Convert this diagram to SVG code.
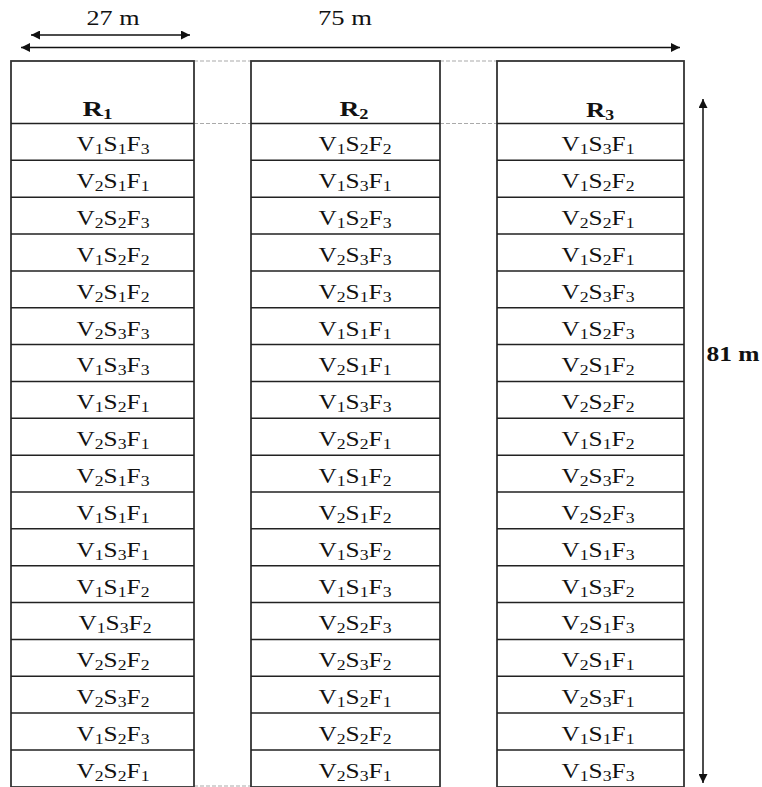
<svg xmlns="http://www.w3.org/2000/svg" width="762" height="787" viewBox="0 0 762 787">
<style>
.c{font-family:"Liberation Serif","Times New Roman",serif;font-size:20px;fill:#111;text-anchor:middle}
.b{font-weight:bold}
.s{font-size:14px;baseline-shift:-3px}
.box{fill:none;stroke:#333;stroke-width:1.8}
.row{stroke:#222;stroke-width:1.5}
.dash{stroke:#aaa;stroke-width:1.2;stroke-dasharray:4 2}
.arr{stroke:#111;stroke-width:1.5;fill:none}
</style>
<defs>
<marker id="ah" viewBox="0 0 10 10" refX="10" refY="5" markerWidth="11" markerHeight="9" markerUnits="userSpaceOnUse" orient="auto-start-reverse">
<path d="M0,0 L10,5 L0,10 z" fill="#111"/>
</marker>
</defs>
<g id="connectors">
<line class="arr" x1="31" y1="35" x2="190" y2="35" marker-start="url(#ah)" marker-end="url(#ah)"/>
<line class="arr" x1="21" y1="47.5" x2="680" y2="47.5" marker-start="url(#ah)" marker-end="url(#ah)"/>
<line class="arr" x1="703" y1="99" x2="703" y2="783" marker-start="url(#ah)" marker-end="url(#ah)"/>
<line class="dash" x1="194" y1="61" x2="251" y2="61"/>
<line class="dash" x1="194" y1="123.5" x2="251" y2="123.5"/>
<line class="dash" x1="194" y1="786" x2="251" y2="786"/>
<line class="dash" x1="440" y1="61" x2="497" y2="61"/>
<line class="dash" x1="440" y1="123.5" x2="497" y2="123.5"/>
</g>
<g id="labels">
<text class="c" x="113" y="25" textLength="53" lengthAdjust="spacingAndGlyphs">27 m</text>
<text class="c" x="345" y="25" textLength="54" lengthAdjust="spacingAndGlyphs">75 m</text>
<text class="c b" x="733" y="361" textLength="53" lengthAdjust="spacingAndGlyphs">81 m</text>
</g>
<g id="R1">
<rect class="box" x="11" y="61" width="183" height="726"/>
<path class="row" d="M11,123.5H194M11,160.35H194M11,197.2H194M11,234.05H194M11,270.9H194M11,307.75H194M11,344.6H194M11,381.45H194M11,418.3H194M11,455.15H194M11,492H194M11,528.85H194M11,565.7H194M11,602.55H194M11,639.4H194M11,676.25H194M11,713.1H194M11,749.95H194"/>
<text class="c b" x="97.5" y="116" style="font-size:21px" textLength="30" lengthAdjust="spacingAndGlyphs">R<tspan class="s">1</tspan></text>
<g class="c">
<text x="113" y="151.3" textLength="73" lengthAdjust="spacingAndGlyphs">V<tspan class="s">1</tspan>S<tspan class="s">1</tspan>F<tspan class="s">3</tspan></text>
<text x="113" y="188.2" textLength="73" lengthAdjust="spacingAndGlyphs">V<tspan class="s">2</tspan>S<tspan class="s">1</tspan>F<tspan class="s">1</tspan></text>
<text x="113" y="225" textLength="73" lengthAdjust="spacingAndGlyphs">V<tspan class="s">2</tspan>S<tspan class="s">2</tspan>F<tspan class="s">3</tspan></text>
<text x="113" y="261.9" textLength="73" lengthAdjust="spacingAndGlyphs">V<tspan class="s">1</tspan>S<tspan class="s">2</tspan>F<tspan class="s">2</tspan></text>
<text x="113" y="298.7" textLength="73" lengthAdjust="spacingAndGlyphs">V<tspan class="s">2</tspan>S<tspan class="s">1</tspan>F<tspan class="s">2</tspan></text>
<text x="113" y="335.6" textLength="73" lengthAdjust="spacingAndGlyphs">V<tspan class="s">2</tspan>S<tspan class="s">3</tspan>F<tspan class="s">3</tspan></text>
<text x="113" y="372.4" textLength="73" lengthAdjust="spacingAndGlyphs">V<tspan class="s">1</tspan>S<tspan class="s">3</tspan>F<tspan class="s">3</tspan></text>
<text x="113" y="409.3" textLength="73" lengthAdjust="spacingAndGlyphs">V<tspan class="s">1</tspan>S<tspan class="s">2</tspan>F<tspan class="s">1</tspan></text>
<text x="113" y="446.1" textLength="73" lengthAdjust="spacingAndGlyphs">V<tspan class="s">2</tspan>S<tspan class="s">3</tspan>F<tspan class="s">1</tspan></text>
<text x="113" y="483" textLength="73" lengthAdjust="spacingAndGlyphs">V<tspan class="s">2</tspan>S<tspan class="s">1</tspan>F<tspan class="s">3</tspan></text>
<text x="113" y="519.8" textLength="73" lengthAdjust="spacingAndGlyphs">V<tspan class="s">1</tspan>S<tspan class="s">1</tspan>F<tspan class="s">1</tspan></text>
<text x="113" y="556.7" textLength="73" lengthAdjust="spacingAndGlyphs">V<tspan class="s">1</tspan>S<tspan class="s">3</tspan>F<tspan class="s">1</tspan></text>
<text x="113" y="593.5" textLength="73" lengthAdjust="spacingAndGlyphs">V<tspan class="s">1</tspan>S<tspan class="s">1</tspan>F<tspan class="s">2</tspan></text>
<text x="115" y="630.4" textLength="73" lengthAdjust="spacingAndGlyphs">V<tspan class="s">1</tspan>S<tspan class="s">3</tspan>F<tspan class="s">2</tspan></text>
<text x="113" y="667.2" textLength="73" lengthAdjust="spacingAndGlyphs">V<tspan class="s">2</tspan>S<tspan class="s">2</tspan>F<tspan class="s">2</tspan></text>
<text x="113" y="704.1" textLength="73" lengthAdjust="spacingAndGlyphs">V<tspan class="s">2</tspan>S<tspan class="s">3</tspan>F<tspan class="s">2</tspan></text>
<text x="113" y="740.9" textLength="73" lengthAdjust="spacingAndGlyphs">V<tspan class="s">1</tspan>S<tspan class="s">2</tspan>F<tspan class="s">3</tspan></text>
<text x="113" y="777.8" textLength="73" lengthAdjust="spacingAndGlyphs">V<tspan class="s">2</tspan>S<tspan class="s">2</tspan>F<tspan class="s">1</tspan></text>
</g>
</g>
<g id="R2">
<rect class="box" x="251" y="61" width="189" height="726"/>
<path class="row" d="M251,123.5H440M251,160.35H440M251,197.2H440M251,234.05H440M251,270.9H440M251,307.75H440M251,344.6H440M251,381.45H440M251,418.3H440M251,455.15H440M251,492H440M251,528.85H440M251,565.7H440M251,602.55H440M251,639.4H440M251,676.25H440M251,713.1H440M251,749.95H440"/>
<text class="c b" x="354" y="116" style="font-size:21px" textLength="29" lengthAdjust="spacingAndGlyphs">R<tspan class="s">2</tspan></text>
<g class="c">
<text x="355" y="151.3" textLength="73" lengthAdjust="spacingAndGlyphs">V<tspan class="s">1</tspan>S<tspan class="s">2</tspan>F<tspan class="s">2</tspan></text>
<text x="355" y="188.2" textLength="73" lengthAdjust="spacingAndGlyphs">V<tspan class="s">1</tspan>S<tspan class="s">3</tspan>F<tspan class="s">1</tspan></text>
<text x="355" y="225" textLength="73" lengthAdjust="spacingAndGlyphs">V<tspan class="s">1</tspan>S<tspan class="s">2</tspan>F<tspan class="s">3</tspan></text>
<text x="355" y="261.9" textLength="73" lengthAdjust="spacingAndGlyphs">V<tspan class="s">2</tspan>S<tspan class="s">3</tspan>F<tspan class="s">3</tspan></text>
<text x="355" y="298.7" textLength="73" lengthAdjust="spacingAndGlyphs">V<tspan class="s">2</tspan>S<tspan class="s">1</tspan>F<tspan class="s">3</tspan></text>
<text x="355" y="335.6" textLength="73" lengthAdjust="spacingAndGlyphs">V<tspan class="s">1</tspan>S<tspan class="s">1</tspan>F<tspan class="s">1</tspan></text>
<text x="355" y="372.4" textLength="73" lengthAdjust="spacingAndGlyphs">V<tspan class="s">2</tspan>S<tspan class="s">1</tspan>F<tspan class="s">1</tspan></text>
<text x="355" y="409.3" textLength="73" lengthAdjust="spacingAndGlyphs">V<tspan class="s">1</tspan>S<tspan class="s">3</tspan>F<tspan class="s">3</tspan></text>
<text x="355" y="446.1" textLength="73" lengthAdjust="spacingAndGlyphs">V<tspan class="s">2</tspan>S<tspan class="s">2</tspan>F<tspan class="s">1</tspan></text>
<text x="355" y="483" textLength="73" lengthAdjust="spacingAndGlyphs">V<tspan class="s">1</tspan>S<tspan class="s">1</tspan>F<tspan class="s">2</tspan></text>
<text x="355" y="519.8" textLength="73" lengthAdjust="spacingAndGlyphs">V<tspan class="s">2</tspan>S<tspan class="s">1</tspan>F<tspan class="s">2</tspan></text>
<text x="355" y="556.7" textLength="73" lengthAdjust="spacingAndGlyphs">V<tspan class="s">1</tspan>S<tspan class="s">3</tspan>F<tspan class="s">2</tspan></text>
<text x="355" y="593.5" textLength="73" lengthAdjust="spacingAndGlyphs">V<tspan class="s">1</tspan>S<tspan class="s">1</tspan>F<tspan class="s">3</tspan></text>
<text x="355" y="630.4" textLength="73" lengthAdjust="spacingAndGlyphs">V<tspan class="s">2</tspan>S<tspan class="s">2</tspan>F<tspan class="s">3</tspan></text>
<text x="355" y="667.2" textLength="73" lengthAdjust="spacingAndGlyphs">V<tspan class="s">2</tspan>S<tspan class="s">3</tspan>F<tspan class="s">2</tspan></text>
<text x="355" y="704.1" textLength="73" lengthAdjust="spacingAndGlyphs">V<tspan class="s">1</tspan>S<tspan class="s">2</tspan>F<tspan class="s">1</tspan></text>
<text x="355" y="740.9" textLength="73" lengthAdjust="spacingAndGlyphs">V<tspan class="s">2</tspan>S<tspan class="s">2</tspan>F<tspan class="s">2</tspan></text>
<text x="355" y="777.8" textLength="73" lengthAdjust="spacingAndGlyphs">V<tspan class="s">2</tspan>S<tspan class="s">3</tspan>F<tspan class="s">1</tspan></text>
</g>
</g>
<g id="R3">
<rect class="box" x="497" y="61" width="187" height="726"/>
<path class="row" d="M497,123.5H684M497,160.35H684M497,197.2H684M497,234.05H684M497,270.9H684M497,307.75H684M497,344.6H684M497,381.45H684M497,418.3H684M497,455.15H684M497,492H684M497,528.85H684M497,565.7H684M497,602.55H684M497,639.4H684M497,676.25H684M497,713.1H684M497,749.95H684"/>
<text class="c b" x="600" y="117" style="font-size:21px" textLength="28" lengthAdjust="spacingAndGlyphs">R<tspan class="s">3</tspan></text>
<g class="c">
<text x="598" y="151.3" textLength="73" lengthAdjust="spacingAndGlyphs">V<tspan class="s">1</tspan>S<tspan class="s">3</tspan>F<tspan class="s">1</tspan></text>
<text x="598" y="188.2" textLength="73" lengthAdjust="spacingAndGlyphs">V<tspan class="s">1</tspan>S<tspan class="s">2</tspan>F<tspan class="s">2</tspan></text>
<text x="598" y="225" textLength="73" lengthAdjust="spacingAndGlyphs">V<tspan class="s">2</tspan>S<tspan class="s">2</tspan>F<tspan class="s">1</tspan></text>
<text x="598" y="261.9" textLength="73" lengthAdjust="spacingAndGlyphs">V<tspan class="s">1</tspan>S<tspan class="s">2</tspan>F<tspan class="s">1</tspan></text>
<text x="598" y="298.7" textLength="73" lengthAdjust="spacingAndGlyphs">V<tspan class="s">2</tspan>S<tspan class="s">3</tspan>F<tspan class="s">3</tspan></text>
<text x="598" y="335.6" textLength="73" lengthAdjust="spacingAndGlyphs">V<tspan class="s">1</tspan>S<tspan class="s">2</tspan>F<tspan class="s">3</tspan></text>
<text x="598" y="372.4" textLength="73" lengthAdjust="spacingAndGlyphs">V<tspan class="s">2</tspan>S<tspan class="s">1</tspan>F<tspan class="s">2</tspan></text>
<text x="598" y="409.3" textLength="73" lengthAdjust="spacingAndGlyphs">V<tspan class="s">2</tspan>S<tspan class="s">2</tspan>F<tspan class="s">2</tspan></text>
<text x="598" y="446.1" textLength="73" lengthAdjust="spacingAndGlyphs">V<tspan class="s">1</tspan>S<tspan class="s">1</tspan>F<tspan class="s">2</tspan></text>
<text x="598" y="483" textLength="73" lengthAdjust="spacingAndGlyphs">V<tspan class="s">2</tspan>S<tspan class="s">3</tspan>F<tspan class="s">2</tspan></text>
<text x="598" y="519.8" textLength="73" lengthAdjust="spacingAndGlyphs">V<tspan class="s">2</tspan>S<tspan class="s">2</tspan>F<tspan class="s">3</tspan></text>
<text x="598" y="556.7" textLength="73" lengthAdjust="spacingAndGlyphs">V<tspan class="s">1</tspan>S<tspan class="s">1</tspan>F<tspan class="s">3</tspan></text>
<text x="598" y="593.5" textLength="73" lengthAdjust="spacingAndGlyphs">V<tspan class="s">1</tspan>S<tspan class="s">3</tspan>F<tspan class="s">2</tspan></text>
<text x="598" y="630.4" textLength="73" lengthAdjust="spacingAndGlyphs">V<tspan class="s">2</tspan>S<tspan class="s">1</tspan>F<tspan class="s">3</tspan></text>
<text x="598" y="667.2" textLength="73" lengthAdjust="spacingAndGlyphs">V<tspan class="s">2</tspan>S<tspan class="s">1</tspan>F<tspan class="s">1</tspan></text>
<text x="598" y="704.1" textLength="73" lengthAdjust="spacingAndGlyphs">V<tspan class="s">2</tspan>S<tspan class="s">3</tspan>F<tspan class="s">1</tspan></text>
<text x="598" y="740.9" textLength="73" lengthAdjust="spacingAndGlyphs">V<tspan class="s">1</tspan>S<tspan class="s">1</tspan>F<tspan class="s">1</tspan></text>
<text x="598" y="777.8" textLength="73" lengthAdjust="spacingAndGlyphs">V<tspan class="s">1</tspan>S<tspan class="s">3</tspan>F<tspan class="s">3</tspan></text>
</g>
</g>
</svg>
